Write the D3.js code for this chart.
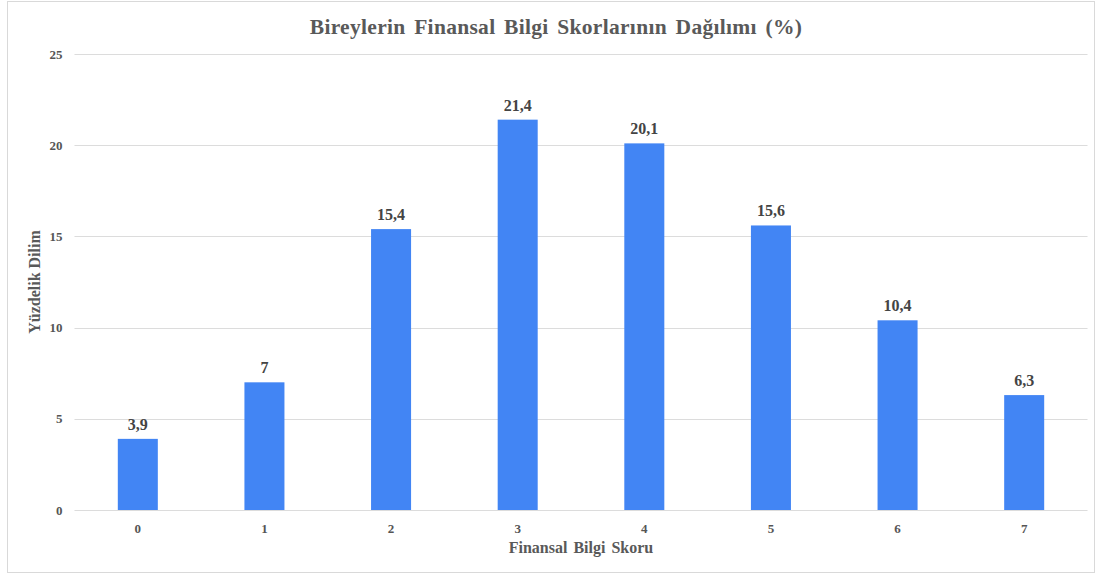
<!DOCTYPE html>
<html><head><meta charset="utf-8">
<script src="https://cdn.jsdelivr.net/npm/d3@7"></script>
<style>body{margin:0;background:#fff}svg{display:block}text{font-family:"Liberation Serif","Times New Roman",serif;font-weight:bold}</style>
</head><body><svg id="c" width="1097" height="576"></svg>
<script>
const categories = ["0","1","2","3","4","5","6","7"];
const values = [3.9, 7, 15.4, 21.4, 20.1, 15.6, 10.4, 6.3];
const yTicks = [0, 5, 10, 15, 20, 25];
const title = "Bireylerin Finansal Bilgi Skorlarının Dağılımı (%)";
const xTitle = "Finansal Bilgi Skoru";
const yTitle = "Yüzdelik Dilim";

const svg = d3.select("#c");
const m = {left: 74.5, right: 1087.5, top: 54, bottom: 510};
svg.append("rect").attr("x",7.5).attr("y",1.5).attr("width",1087).attr("height",571)
  .attr("fill","#fff").attr("stroke","#d9d9d9");

const x = d3.scaleBand().domain(categories).range([m.left, m.right]).paddingInner(0.684).paddingOuter(0.342);
const y = d3.scaleLinear().domain([0,25]).range([m.bottom, m.top]);

svg.append("g").selectAll("line").data(yTicks).join("line")
  .attr("x1", m.left).attr("x2", m.right)
  .attr("y1", d=>Math.round(y(d))+0.5).attr("y2", d=>Math.round(y(d))+0.5)
  .attr("stroke","#dcdcdc").attr("stroke-width",1.2);

const ya = svg.append("g").attr("transform",`translate(${m.left-12},0)`)
  .call(d3.axisLeft(y).tickValues(yTicks).tickSize(0).tickPadding(0));
ya.select(".domain").remove();
ya.selectAll("text").attr("font-size",13).attr("fill","#555").attr("font-family","Liberation Serif").attr("font-weight","bold");

const xa = svg.append("g").attr("transform",`translate(0,${m.bottom+14})`)
  .call(d3.axisBottom(x).tickSize(0).tickPadding(0));
xa.select(".domain").remove();
xa.selectAll("text").attr("font-size",13).attr("fill","#555").attr("font-family","Liberation Serif").attr("font-weight","bold");

svg.append("g").selectAll("rect").data(values).join("rect")
  .attr("x",(d,i)=>x(categories[i])).attr("width",x.bandwidth())
  .attr("y",d=>y(d)).attr("height",d=>y(0)-y(d)).attr("fill","#4285f4");

svg.append("g").selectAll("text").data(values).join("text")
  .attr("x",(d,i)=>x(categories[i])+x.bandwidth()/2).attr("y",d=>y(d)-9)
  .attr("text-anchor","middle").attr("font-size",16).attr("fill","#444")
  .text(d=>String(d).replace(".",","));

svg.append("text").attr("x",556).attr("y",34).attr("text-anchor","middle")
  .attr("font-size",21.5).attr("fill","#595959").attr("word-spacing",3).attr("letter-spacing",0.3).text(title);
svg.append("text").attr("x",581).attr("y",553).attr("text-anchor","middle")
  .attr("font-size",16).attr("fill","#595959").attr("word-spacing",2).text(xTitle);
svg.append("text").attr("transform",`translate(40,${(m.top+m.bottom)/2}) rotate(-90)`)
  .attr("text-anchor","middle").attr("font-size",16).attr("fill","#595959").text(yTitle);
</script></body></html>
